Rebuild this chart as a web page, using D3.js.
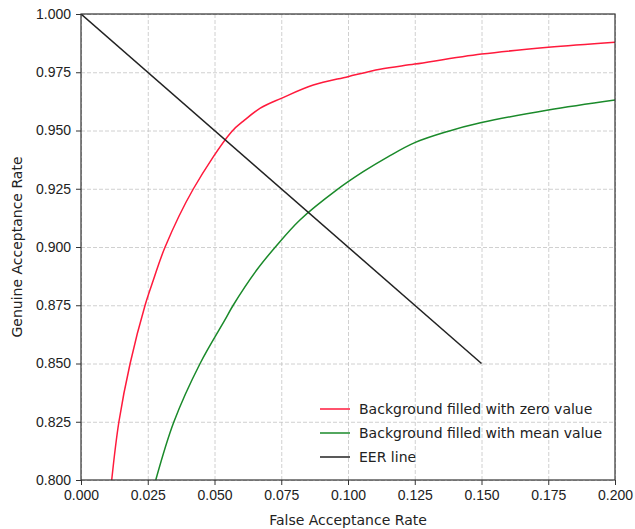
<!DOCTYPE html>
<html>
<head>
<meta charset="utf-8">
<script src="https://cdn.jsdelivr.net/npm/d3@7"></script>
<style>
  body { margin: 0; background: #fff; }
  svg { display: block; font-family: "DejaVu Sans", sans-serif; }
  .grid line { stroke: #c4c4c4; stroke-dasharray: 4,2; stroke-width: 0.8; }
  .grid path { display: none; }
  .axis text { font-size: 14px; fill: #222; }
  .axis line, .axis path { stroke: #333; }
</style>
</head>
<body>
<svg width="635" height="529"></svg>
<script>
// red curve: background filled with zero value
var zeroFar = [0.0115, 0.0142, 0.0184, 0.0240, 0.0271, 0.0315, 0.0421, 0.0564, 0.0608, 0.0670, 0.0750, 0.0870, 0.1000, 0.1120, 0.1250, 0.1500, 0.1750, 0.2000];
var zeroGar = [0.800, 0.825, 0.850, 0.875, 0.8858, 0.900, 0.925, 0.9495, 0.9540, 0.9595, 0.9638, 0.9695, 0.9731, 0.9763, 0.9785, 0.9828, 0.9857, 0.9879];

// green curve: background filled with mean value
var meanFar = [0.0280, 0.0348, 0.0446, 0.0539, 0.0570, 0.0658, 0.0728, 0.0820, 0.0958, 0.1057, 0.1151, 0.1250, 0.1370, 0.1500, 0.1750, 0.2000];
var meanGar = [0.800, 0.825, 0.850, 0.8687, 0.875, 0.8901, 0.900, 0.9116, 0.9245, 0.9323, 0.9388, 0.9448, 0.9495, 0.9534, 0.9588, 0.9631];

// EER line
var eerFar = [0.000, 0.150];
var eerGar = [1.000, 0.850];

var xTicks = [0, 0.025, 0.05, 0.075, 0.1, 0.125, 0.15, 0.175, 0.2];
var yTicks = [0.8, 0.825, 0.85, 0.875, 0.9, 0.925, 0.95, 0.975, 1.0];

var seriesNames = ["Background filled with zero value", "Background filled with mean value", "EER line"];
var seriesColors = ["#ff1a3c", "#1a8a2a", "#222222"];

var margin = {top: 14, right: 20, bottom: 49, left: 81};
var width = 635 - margin.left - margin.right;
var height = 529 - margin.top - margin.bottom;

var svg = d3.select("svg");
var g = svg.append("g")
  .attr("transform", "translate(" + margin.left + "," + margin.top + ")");

var x = d3.scaleLinear().domain([0, 0.2]).range([0, width]);
var y = d3.scaleLinear().domain([0.8, 1.0]).range([height, 0]);

// grid
g.append("g")
  .attr("class", "grid")
  .attr("transform", "translate(0," + height + ")")
  .call(d3.axisBottom(x).tickValues(xTicks).tickSize(-height).tickFormat(""));
g.append("g")
  .attr("class", "grid")
  .call(d3.axisLeft(y).tickValues(yTicks).tickSize(-width).tickFormat(""));

// clip
g.append("clipPath").attr("id", "clip")
  .append("rect").attr("width", width).attr("height", height);

function toPoints(xs, ys) {
  return xs.map(function(v, i) { return [v, ys[i]]; });
}
var series = [toPoints(zeroFar, zeroGar), toPoints(meanFar, meanGar), toPoints(eerFar, eerGar)];

var line = d3.line()
  .x(function(d) { return x(d[0]); })
  .y(function(d) { return y(d[1]); })
  .curve(d3.curveCatmullRom.alpha(0.5));

g.append("g").attr("clip-path", "url(#clip)")
  .selectAll("path")
  .data(series)
  .enter().append("path")
  .attr("fill", "none")
  .attr("stroke", function(d, i) { return seriesColors[i]; })
  .attr("stroke-width", 1.5)
  .attr("stroke-linejoin", "round")
  .attr("d", line);

// frame
g.append("rect")
  .attr("width", width).attr("height", height)
  .attr("fill", "none").attr("stroke", "#333").attr("stroke-width", 1.2);

// axes
var xAxis = g.append("g")
  .attr("class", "axis")
  .attr("transform", "translate(0," + height + ")")
  .call(d3.axisBottom(x).tickValues(xTicks).tickSize(5).tickPadding(5).tickFormat(d3.format(".3f")));
var yAxis = g.append("g")
  .attr("class", "axis")
  .call(d3.axisLeft(y).tickValues(yTicks).tickSize(5).tickPadding(5).tickFormat(d3.format(".3f")));
xAxis.select(".domain").remove();
yAxis.select(".domain").remove();

// axis labels
svg.append("text")
  .attr("x", margin.left + width / 2)
  .attr("y", 525)
  .attr("text-anchor", "middle")
  .attr("font-size", 14).attr("fill", "#222")
  .text("False Acceptance Rate");
svg.append("text")
  .attr("transform", "translate(22," + (margin.top + height / 2) + ") rotate(-90)")
  .attr("text-anchor", "middle")
  .attr("font-size", 14).attr("fill", "#222")
  .text("Genuine Acceptance Rate");

// legend
var legend = g.append("g")
  .attr("transform", "translate(" + (320 - margin.left) + "," + (409 - margin.top) + ")");
seriesNames.forEach(function(name, i) {
  var row = legend.append("g").attr("transform", "translate(0," + (i * 24) + ")");
  row.append("line")
    .attr("x1", 0).attr("x2", 30)
    .attr("stroke", seriesColors[i]).attr("stroke-width", 1.5);
  row.append("text")
    .attr("x", 39).attr("y", 5)
    .attr("font-size", 14).attr("fill", "#222")
    .text(name);
});
</script>
</body>
</html>
